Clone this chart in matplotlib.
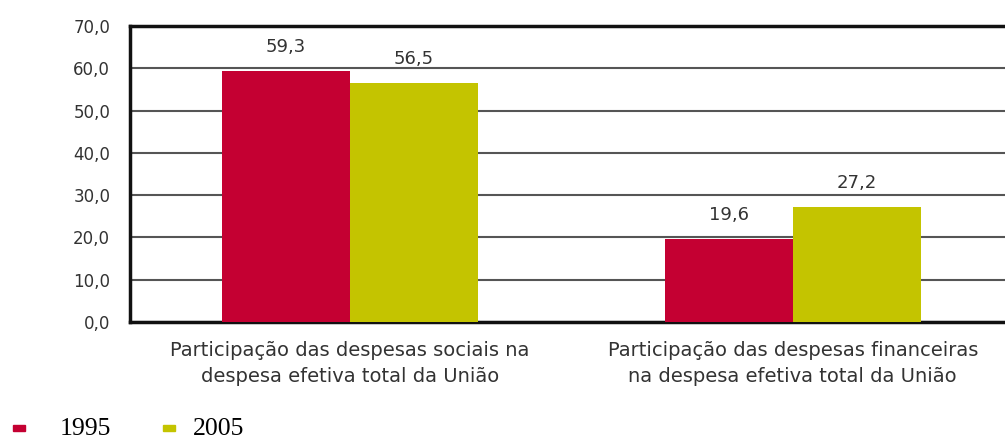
import numpy as np
import matplotlib.pyplot as plt
from matplotlib.patches import Rectangle

# dados do gráfico
categorias = ['Participação das despesas sociais na\ndespesa efetiva total da União',
              'Participação das despesas financeiras\nna despesa efetiva total da União']
anos = ['1995', '2005']
valores_1995 = [59.3, 19.6]
valores_2005 = [56.5, 27.2]
yticks = [0, 10, 20, 30, 40, 50, 60, 70]

cor_1995 = '#C40032'
cor_2005 = '#C4C400'
cor_texto = '#333333'

fig = plt.figure(figsize=(10.05, 4.41), dpi=100)
ax = fig.add_axes([0.129, 0.270, 0.871, 0.671])

x = np.arange(len(categorias))
w = 0.289
b1 = ax.bar(x - w / 2, valores_1995, w, color=cor_1995, zorder=3, label=anos[0])
b2 = ax.bar(x + w / 2, valores_2005, w, color=cor_2005, zorder=3, label=anos[1])

for bars, vals in [(b1, valores_1995), (b2, valores_2005)]:
    for r, v in zip(bars, vals):
        ax.text(r.get_x() + r.get_width() / 2, v + 3.6, f'{v:.1f}'.replace('.', ','),
                ha='center', va='bottom', fontsize=13, color=cor_texto)

ax.set_xlim(-0.497, 1.479)
ax.set_ylim(0, 70)
ax.set_yticks(yticks)
ax.set_yticklabels([f'{t:.1f}'.replace('.', ',') for t in yticks], fontsize=12, color=cor_texto)
ax.set_xticks(x)
ax.set_xticklabels(categorias, fontsize=14, color=cor_texto, linespacing=1.45)
ax.tick_params(axis='x', length=0, pad=14)
ax.tick_params(axis='y', length=0, pad=14)

ax.yaxis.grid(True, color='#555555', linewidth=1.5, zorder=0)
for s in ['left', 'top', 'bottom']:
    ax.spines[s].set_linewidth(2.5)
    ax.spines[s].set_color('#111111')
ax.spines['right'].set_visible(False)

# legenda desenhada à mão (espaçamentos irregulares no original)
W, H = 1005, 441
leg_items = [(anos[0], cor_1995, 13, 60), (anos[1], cor_2005, 163, 193)]
for txt, cor, xm, xt in leg_items:
    fig.patches.append(Rectangle((xm / W, (H - 431) / H), 12 / W, 6 / H,
                                 transform=fig.transFigure, color=cor))
    fig.text(xt / W, (H - 429) / H, txt, ha='left', va='center',
             family='Liberation Serif', size=18.5, color='#000000')

fig.savefig('out.png', dpi=100)
